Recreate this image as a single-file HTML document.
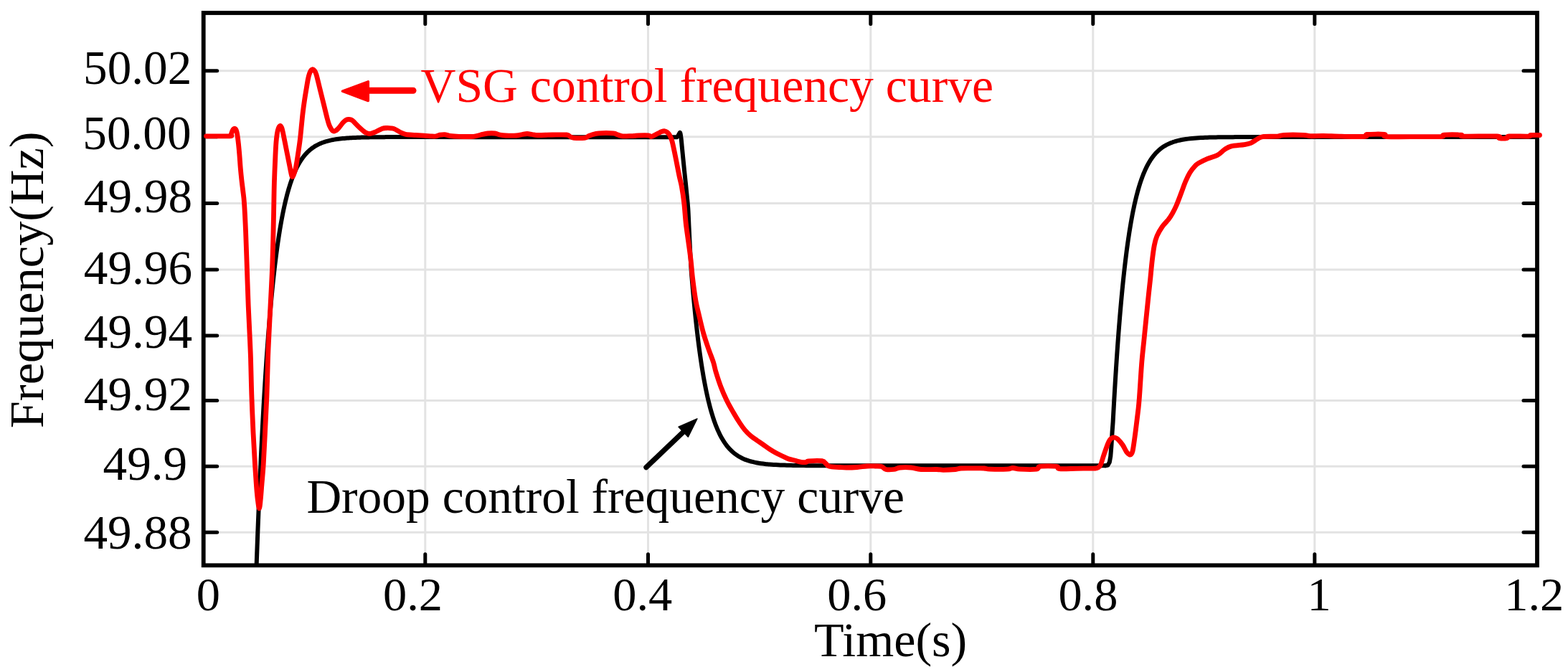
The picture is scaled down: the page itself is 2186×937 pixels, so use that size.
<!DOCTYPE html>
<html><head><meta charset="utf-8"><title>Frequency curves</title>
<style>html,body{margin:0;padding:0;background:#fff;overflow:hidden}svg{display:block}</style>
</head><body>
<svg width="2186" height="937" viewBox="0 0 2186 937">
<rect width="2186" height="937" fill="#fff"/>
<defs><clipPath id="pc"><rect x="283.7" y="18.0" width="1859.3" height="771.8"/></clipPath></defs>
<path d="M592.80,18.00V788.30 M903.50,18.00V788.30 M1213.80,18.00V788.30 M1523.80,18.00V788.30 M1832.80,18.00V788.30 M283.70,98.80H2143.00 M283.70,190.80H2143.00 M283.70,283.40H2143.00 M283.70,375.90H2143.00 M283.70,468.00H2143.00 M283.70,558.50H2143.00 M283.70,650.20H2143.00 M283.70,742.30H2143.00" stroke="#e3e3e3" stroke-width="3.00" fill="none"/>
<g clip-path="url(#pc)" fill="none" stroke="#000" stroke-width="6.00" stroke-linejoin="round" stroke-linecap="round">
<path d="M355.00,800.00 L355.50,800.00 L356.00,800.00 L356.50,800.00 L357.00,800.00 L357.50,791.62 L358.00,777.67 L358.50,764.04 L359.00,750.73 L359.50,737.73 L360.00,725.04 L360.50,712.63 L361.00,700.52 L361.50,688.68 L362.00,677.12 L362.50,665.83 L363.00,654.80 L363.50,644.03 L364.00,633.51 L364.50,623.23 L365.00,613.19 L365.50,603.39 L366.00,593.81 L366.50,584.45 L367.00,575.31 L367.50,566.39 L368.00,557.67 L368.50,549.15 L369.00,540.83 L369.50,532.71 L370.00,524.77 L370.50,517.02 L371.00,509.45 L371.50,502.05 L372.00,494.83 L372.50,487.77 L373.00,480.88 L373.50,474.15 L374.00,467.57 L374.50,461.15 L375.00,454.87 L375.50,448.74 L376.00,442.76 L376.50,436.91 L377.00,431.20 L377.50,425.62 L378.00,420.17 L378.50,414.85 L379.00,409.65 L379.50,404.57 L380.00,399.61 L380.50,394.76 L381.00,390.03 L381.50,385.41 L382.00,380.89 L382.50,376.48 L383.00,372.17 L383.50,367.97 L384.00,363.86 L384.50,359.84 L385.00,355.92 L385.50,352.09 L386.00,348.35 L386.50,344.69 L387.00,341.12 L387.50,337.64 L388.00,334.23 L388.50,330.90 L389.00,327.66 L389.50,324.48 L390.00,321.38 L390.50,318.35 L391.00,315.39 L391.50,312.51 L392.00,309.68 L392.50,306.93 L393.00,304.23 L393.50,301.60 L394.00,299.04 L394.50,296.53 L395.00,294.08 L395.50,291.68 L396.00,289.34 L396.50,287.06 L397.00,284.83 L397.50,282.65 L398.00,280.52 L398.50,278.44 L399.00,276.41 L399.50,274.43 L400.00,272.49 L400.50,270.60 L401.00,268.75 L401.50,266.94 L402.00,265.18 L402.50,263.45 L403.00,261.77 L403.50,260.13 L404.00,258.52 L404.50,256.95 L405.00,255.42 L405.50,253.93 L406.00,252.46 L406.50,251.04 L407.00,249.64 L407.50,248.28 L408.00,246.95 L408.50,245.65 L409.00,244.38 L409.50,243.14 L410.00,241.93 L410.50,240.75 L411.00,239.59 L411.50,238.46 L412.00,237.36 L412.50,236.28 L413.00,235.23 L413.50,234.21 L414.00,233.20 L414.50,232.22 L415.00,231.26 L415.50,230.33 L416.00,229.42 L416.50,228.52 L417.00,227.65 L417.50,226.80 L418.00,225.97 L418.50,225.16 L419.00,224.36 L419.50,223.59 L420.00,222.83 L422.00,219.98 L424.00,217.38 L426.00,215.01 L428.00,212.86 L430.00,210.89 L432.00,209.11 L434.00,207.49 L436.00,206.01 L438.00,204.66 L440.00,203.43 L442.00,202.32 L444.00,201.30 L446.00,200.38 L448.00,199.54 L450.00,198.77 L452.00,198.07 L454.00,197.44 L456.00,196.86 L458.00,196.34 L460.00,195.86 L462.00,195.42 L464.00,195.02 L466.00,194.66 L468.00,194.33 L470.00,194.04 L472.00,193.76 L474.00,193.52 L476.00,193.29 L478.00,193.08 L480.00,192.90 L482.00,192.73 L484.00,192.57 L486.00,192.43 L488.00,192.30 L490.00,192.19 L492.00,192.08 L494.00,191.98 L496.00,191.89 L498.00,191.81 L500.00,191.74 L502.00,191.67 L504.00,191.61 L506.00,191.56 L508.00,191.51 L510.00,191.46 L512.00,191.42 L514.00,191.38 L516.00,191.35 L518.00,191.32 L520.00,191.29 L522.00,191.26 L524.00,191.24 L526.00,191.22 L528.00,191.20 L530.00,191.18 L532.00,191.16 L534.00,191.15 L536.00,191.14 L538.00,191.12 L540.00,191.11 L542.00,191.10 L544.00,191.09 L546.00,191.09 L548.00,191.08 L550.00,191.07 L552.00,191.06 L554.00,191.06 L556.00,191.05 L558.00,191.05 L560.00,191.04 L562.00,191.04 L564.00,191.04 L566.00,191.03 L568.00,191.03 L570.00,191.03 L572.00,191.03 L574.00,191.02 L576.00,191.02 L578.00,191.02 L580.00,191.02 L582.00,191.02 L584.00,191.01 L586.00,191.01 L588.00,191.01 L590.00,191.01 L592.00,191.01 L594.00,191.01 L596.00,191.01 L598.00,191.01 L600.00,191.01"/>
<path d="M600.00,191.00 C616.67,191.03 666.67,191.17 700.00,191.20 C733.33,191.23 766.67,191.20 800.00,191.20 C833.33,191.20 877.00,191.20 900.00,191.20 C923.00,191.20 930.68,191.23 938.00,191.20 C945.32,191.17 942.52,191.62 943.90,191.00 C945.28,190.38 945.58,188.50 946.30,187.50 C947.02,186.50 947.65,184.08 948.20,185.00 C948.75,185.92 949.18,189.82 949.60,193.00 C950.02,196.18 950.23,199.40 950.70,204.10 C951.17,208.80 951.83,215.50 952.40,221.20 C952.97,226.90 953.52,232.60 954.10,238.30 C954.68,244.00 955.32,249.72 955.90,255.40 C956.48,261.08 957.03,266.47 957.60,272.40 C958.17,278.33 958.80,283.40 959.30,291.00 C959.80,298.60 960.13,308.33 960.60,318.00 C961.07,327.67 961.57,338.91 962.10,349.00 C962.63,359.09 963.35,371.58 963.80,378.53 C964.25,385.48 964.47,386.74 964.80,390.70 C965.13,394.67 965.47,398.54 965.80,402.33 C966.13,406.12 966.47,409.81 966.80,413.43 C967.13,417.05 967.47,420.58 967.80,424.04 C968.13,427.49 968.47,430.86 968.80,434.16 C969.13,437.46 969.47,440.68 969.80,443.84 C970.13,446.99 970.47,450.06 970.80,453.07 C971.13,456.08 971.47,459.02 971.80,461.89 C972.13,464.77 972.47,467.57 972.80,470.32 C973.13,473.07 973.47,475.74 973.80,478.37 C974.13,480.99 974.47,483.55 974.80,486.05 C975.13,488.56 975.47,491.00 975.80,493.39 C976.13,495.78 976.47,498.12 976.80,500.40 C977.13,502.68 977.47,504.91 977.80,507.09 C978.13,509.28 978.47,511.40 978.80,513.49 C979.13,515.57 979.47,517.60 979.80,519.59 C980.13,521.58 980.47,523.52 980.80,525.42 C981.13,527.32 981.47,529.18 981.80,530.99 C982.13,532.81 982.47,534.58 982.80,536.31 C983.13,538.05 983.47,539.74 983.80,541.39 C984.13,543.05 984.47,544.66 984.80,546.24 C985.13,547.82 985.47,549.37 985.80,550.88 C986.13,552.39 986.47,553.86 986.80,555.30 C987.13,556.74 987.47,558.15 987.80,559.53 C988.13,560.90 988.47,562.25 988.80,563.56 C989.13,564.88 989.47,566.16 989.80,567.42 C990.13,568.67 990.47,569.90 990.80,571.10 C991.13,572.30 991.47,573.47 991.80,574.62 C992.13,575.76 992.47,576.88 992.80,577.97 C993.13,579.07 993.47,580.13 993.80,581.18 C994.13,582.22 994.47,583.24 994.80,584.24 C995.13,585.24 995.47,586.21 995.80,587.17 C996.13,588.12 996.47,589.05 996.80,589.96 C997.13,590.87 997.47,591.76 997.80,592.63 C998.13,593.50 998.47,594.35 998.80,595.18 C999.13,596.01 999.47,596.82 999.80,597.61 C1000.13,598.40 1000.13,598.49 1000.80,599.93 C1001.47,601.38 1002.80,604.31 1003.80,606.30 C1004.80,608.28 1005.80,610.11 1006.80,611.84 C1007.80,613.57 1008.80,615.16 1009.80,616.67 C1010.80,618.17 1011.80,619.56 1012.80,620.87 C1013.80,622.19 1014.80,623.40 1015.80,624.54 C1016.80,625.68 1017.80,626.74 1018.80,627.73 C1019.80,628.73 1020.80,629.64 1021.80,630.51 C1022.80,631.38 1023.80,632.18 1024.80,632.93 C1025.80,633.69 1026.80,634.38 1027.80,635.04 C1028.80,635.70 1029.80,636.31 1030.80,636.88 C1031.80,637.45 1032.80,637.98 1033.80,638.48 C1034.80,638.98 1035.80,639.44 1036.80,639.88 C1037.80,640.31 1038.80,640.71 1039.80,641.09 C1040.80,641.47 1041.80,641.82 1042.80,642.15 C1043.80,642.48 1044.80,642.78 1045.80,643.07 C1046.80,643.36 1047.80,643.62 1048.80,643.87 C1049.80,644.12 1050.80,644.35 1051.80,644.57 C1052.80,644.79 1053.80,644.99 1054.80,645.18 C1055.80,645.37 1056.80,645.55 1057.80,645.71 C1058.80,645.88 1059.80,646.03 1060.80,646.18 C1061.80,646.32 1062.80,646.45 1063.80,646.58 C1064.80,646.70 1065.80,646.82 1066.80,646.93 C1067.80,647.04 1068.80,647.14 1069.80,647.23 C1070.80,647.33 1071.80,647.42 1072.80,647.50 C1073.80,647.58 1074.80,647.66 1075.80,647.73 C1076.80,647.81 1077.80,647.87 1078.80,647.93 C1079.80,648.00 1080.80,648.06 1081.80,648.11 C1082.80,648.17 1083.80,648.22 1084.80,648.26 C1085.80,648.31 1086.80,648.36 1087.80,648.40 C1088.80,648.44 1089.80,648.48 1090.80,648.51 C1091.80,648.55 1092.80,648.58 1093.80,648.62 C1094.80,648.65 1095.80,648.68 1096.80,648.70 C1097.80,648.73 1098.80,648.76 1099.80,648.78 C1100.80,648.80 1101.80,648.83 1102.80,648.85 C1103.80,648.87 1104.80,648.89 1105.80,648.91 C1106.80,648.92 1107.80,648.94 1108.80,648.96 C1109.80,648.97 1110.80,648.99 1111.80,649.00 C1112.80,649.01 1113.80,649.03 1114.80,649.04 C1115.80,649.05 1116.80,649.06 1117.80,649.07 C1118.80,649.08 1119.80,649.09 1120.80,649.10 C1121.80,649.11 1122.80,649.12 1123.80,649.13 C1124.80,649.14 1125.80,649.14 1126.80,649.15 C1127.80,649.16 1128.80,649.16 1129.80,649.17 C1130.80,649.18 1131.80,649.18 1132.80,649.19 C1133.80,649.19 1134.80,649.20 1135.80,649.20 C1136.80,649.21 1137.80,649.21 1138.80,649.21 C1139.80,649.22 1140.80,649.22 1141.80,649.22 C1142.80,649.23 1143.80,649.23 1144.80,649.23 C1145.80,649.24 1146.80,649.24 1147.80,649.24 C1148.80,649.25 1149.80,649.25 1150.80,649.25 C1151.80,649.25 1152.80,649.25 1153.80,649.26 C1154.80,649.26 1155.80,649.26 1156.80,649.26 C1157.80,649.26 1152.60,649.26 1159.80,649.27 C1167.00,649.27 1176.63,649.29 1200.00,649.30 C1223.37,649.31 1266.67,649.30 1300.00,649.30 C1333.33,649.30 1366.67,649.30 1400.00,649.30 C1433.33,649.30 1476.50,649.30 1500.00,649.30 C1523.50,649.30 1534.17,649.30 1541.00,649.30"/>
<path d="M1541.00,649.30 L1544.50,648.50 L1546.80,644.50 L1548.30,636.00 L1549.40,622.00 L1550.60,602.00 L1551.60,588.63 L1552.10,579.21 L1552.60,570.00 L1553.10,561.01 L1553.60,552.24 L1554.10,543.67 L1554.60,535.31 L1555.10,527.14 L1555.60,519.17 L1556.10,511.39 L1556.60,503.79 L1557.10,496.37 L1557.60,489.13 L1558.10,482.06 L1558.60,475.16 L1559.10,468.42 L1559.60,461.84 L1560.10,455.42 L1560.60,449.15 L1561.10,443.03 L1561.60,437.05 L1562.10,431.21 L1562.60,425.52 L1563.10,419.96 L1563.60,414.53 L1564.10,409.23 L1564.60,404.05 L1565.10,399.00 L1565.60,394.07 L1566.10,389.25 L1566.60,384.55 L1567.10,379.96 L1567.60,375.48 L1568.10,371.10 L1568.60,366.83 L1569.10,362.66 L1569.60,358.59 L1570.10,354.62 L1570.60,350.74 L1571.10,346.95 L1571.60,343.25 L1572.10,339.64 L1572.60,336.12 L1573.10,332.67 L1573.60,329.32 L1574.10,326.04 L1574.60,322.83 L1575.10,319.71 L1575.60,316.65 L1576.10,313.67 L1576.60,310.77 L1577.10,307.93 L1577.60,305.15 L1578.10,302.45 L1578.60,299.80 L1579.10,297.22 L1579.60,294.70 L1580.10,292.24 L1580.60,289.84 L1581.10,287.50 L1581.60,285.21 L1582.10,282.98 L1582.60,280.80 L1583.10,278.67 L1583.60,276.59 L1584.10,274.56 L1584.60,272.58 L1585.10,270.64 L1585.60,268.75 L1586.10,266.91 L1586.60,265.11 L1587.10,263.35 L1587.60,261.64 L1588.10,259.96 L1588.60,258.33 L1589.10,256.73 L1589.60,255.17 L1590.10,253.65 L1590.60,252.16 L1591.10,250.71 L1591.60,249.30 L1592.10,247.91 L1592.60,246.56 L1593.10,245.25 L1593.60,243.96 L1594.10,242.70 L1594.60,241.48 L1595.10,240.28 L1595.60,239.11 L1596.10,237.97 L1596.60,236.86 L1597.10,235.77 L1597.60,234.71 L1598.10,233.67 L1598.60,232.66 L1599.10,231.67 L1599.60,230.71 L1600.10,229.77 L1600.60,228.85 L1601.10,227.95 L1601.60,227.07 L1602.10,226.22 L1602.60,225.38 L1603.10,224.57 L1603.60,223.77 L1604.10,222.99 L1604.60,222.23 L1605.10,221.49 L1605.60,220.77 L1606.10,220.06 L1606.60,219.38 L1607.10,218.70 L1607.60,218.05 L1608.10,217.40 L1608.60,216.78 L1609.10,216.17 L1609.60,215.57 L1610.10,214.99 L1610.60,214.42 L1611.10,213.86 L1611.60,213.32 L1612.10,212.79 L1612.60,212.28 L1613.10,211.77 L1613.60,211.28 L1614.10,210.80 L1614.60,210.33 L1615.10,209.87 L1615.60,209.42 L1616.10,208.98 L1616.60,208.56 L1617.10,208.14 L1617.60,207.74 L1618.10,207.34 L1618.60,206.95 L1619.10,206.57 L1619.60,206.20 L1620.10,205.84 L1623.10,203.85 L1626.10,202.13 L1629.10,200.64 L1632.10,199.34 L1635.10,198.22 L1638.10,197.26 L1641.10,196.42 L1644.10,195.69 L1647.10,195.06 L1650.10,194.52 L1653.10,194.05 L1656.10,193.64 L1659.10,193.28 L1662.10,192.98 L1665.10,192.71 L1668.10,192.48 L1671.10,192.28 L1674.10,192.11 L1677.10,191.96 L1680.10,191.83 L1683.10,191.72 L1686.10,191.62 L1689.10,191.54 L1692.10,191.47 L1695.10,191.41 L1698.10,191.35 L1701.10,191.30 L1704.10,191.26 L1707.10,191.23 L1710.10,191.20 L1713.10,191.17 L1716.10,191.15 L1719.10,191.13 L1722.10,191.11 L1725.10,191.10 L1728.10,191.08 L1731.10,191.07 L1734.10,191.06 L1737.10,191.05 L1740.10,191.05 L1743.10,191.04 L1746.10,191.04 L1749.10,191.03 L1752.10,191.03 L1755.10,191.02 L1758.10,191.02 L1761.10,191.02 L1764.10,191.01 L1767.10,191.01 L1770.10,191.01 L1773.10,191.01 L1776.10,191.01 L1779.10,191.01 L1782.10,191.01 L1785.10,191.01 L1788.10,191.00 L1791.10,191.00 L1794.10,191.00 L1797.10,191.00 L1800.10,191.00 L1803.10,191.00 L1806.10,191.00 L1809.10,191.00 L1812.10,191.00 L1815.10,191.00 L1818.10,191.00 L1821.10,191.00 L1824.10,191.00 L1827.10,191.00 L1830.10,191.00 L1833.10,191.00 L1836.10,191.00 L1839.10,191.00 L1842.10,191.00 L1845.10,191.00 L1848.10,191.00 L1851.10,191.00 L1854.10,191.00 L1857.10,191.00 L1860.10,191.00 L1863.10,191.00 L1866.10,191.00 L1869.10,191.00 L1872.10,191.00 L1875.10,191.00 L1878.10,191.00 L1881.10,191.00 L1884.10,191.00 L1887.10,191.00 L1890.10,191.00 L1893.10,191.00 L1896.10,191.00 L1899.10,191.00 L1902.10,191.00 L1905.10,191.00 L1908.10,191.00 L1911.10,191.00 L1914.10,191.00 L1917.10,191.00 L1920.10,191.00 L1923.10,191.00 L1926.10,191.00 L1929.10,191.00 L1932.10,191.00 L1935.10,191.00 L1938.10,191.00 L1941.10,191.00 L1944.10,191.00 L1947.10,191.00 L1950.10,191.00 L1953.10,191.00 L1956.10,191.00 L1959.10,191.00 L1962.10,191.00 L1965.10,191.00 L1968.10,191.00 L1971.10,191.00 L1974.10,191.00 L1977.10,191.00 L1980.10,191.00 L1983.10,191.00 L1986.10,191.00 L1989.10,191.00 L1992.10,191.00 L1995.10,191.00 L1998.10,191.00 L2001.10,191.00 L2004.10,191.00 L2007.10,191.00 L2010.10,191.00 L2013.10,191.00 L2016.10,191.00 L2019.10,191.00 L2022.10,191.00 L2025.10,191.00 L2028.10,191.00 L2031.10,191.00 L2034.10,191.00 L2037.10,191.00 L2040.10,191.00 L2043.10,191.00 L2046.10,191.00 L2049.10,191.00 L2052.10,191.00 L2055.10,191.00 L2058.10,191.00 L2061.10,191.00 L2064.10,191.00 L2067.10,191.00 L2070.10,191.00 L2073.10,191.00 L2076.10,191.00 L2079.10,191.00 L2082.10,191.00 L2085.10,191.00 L2088.10,191.00 L2091.10,191.00 L2094.10,191.00 L2097.10,191.00 L2100.10,191.00 L2103.10,191.00 L2106.10,191.00 L2109.10,191.00 L2112.10,191.00 L2115.10,191.00 L2118.10,191.00 L2121.10,191.00 L2124.10,191.00 L2127.10,191.00 L2130.10,191.00 L2133.10,191.00 L2136.10,191.00 L2139.10,191.00 L2142.10,191.00"/>
</g>
<rect x="283.70" y="18.00" width="1859.30" height="770.30" fill="none" stroke="#000" stroke-width="5.80"/>
<path d="M592.80,788.30V772.80 M592.80,18.00V33.50 M903.50,788.30V772.80 M903.50,18.00V33.50 M1213.80,788.30V772.80 M1213.80,18.00V33.50 M1523.80,788.30V772.80 M1523.80,18.00V33.50 M1832.80,788.30V772.80 M1832.80,18.00V33.50 M283.70,98.80H302.70 M2143.00,98.80H2124.00 M283.70,190.80H302.70 M2143.00,190.80H2124.00 M283.70,283.40H302.70 M2143.00,283.40H2124.00 M283.70,375.90H302.70 M2143.00,375.90H2124.00 M283.70,468.00H302.70 M2143.00,468.00H2124.00 M283.70,558.50H302.70 M2143.00,558.50H2124.00 M283.70,650.20H302.70 M2143.00,650.20H2124.00 M283.70,742.30H302.70 M2143.00,742.30H2124.00" stroke="#000" stroke-width="5" fill="none" stroke-linecap="round"/>
<path d="M287.60,189.80 C293.00,189.80 314.27,190.13 320.00,189.80 C325.73,189.47 321.33,189.02 322.00,187.80 C322.67,186.58 323.37,183.83 324.00,182.50 C324.63,181.17 325.23,180.35 325.80,179.80 C326.37,179.25 326.88,179.08 327.40,179.20 C327.92,179.32 328.43,179.62 328.90,180.50 C329.37,181.38 329.80,182.75 330.20,184.50 C330.60,186.25 330.92,188.25 331.30,191.00 C331.68,193.75 332.08,197.00 332.50,201.00 C332.92,205.00 333.33,209.33 333.80,215.00 C334.27,220.67 334.77,228.83 335.30,235.00 C335.83,241.17 336.43,246.83 337.00,252.00 C337.57,257.17 338.12,260.83 338.70,266.00 C339.28,271.17 339.85,273.33 340.50,283.00 C341.15,292.67 341.95,308.60 342.60,324.00 C343.25,339.40 343.80,358.28 344.40,375.40 C345.00,392.52 345.60,411.77 346.20,426.70 C346.80,441.63 347.45,452.78 348.00,465.00 C348.55,477.22 349.03,485.83 349.50,500.00 C349.97,514.17 350.22,532.83 350.80,550.00 C351.38,567.17 352.22,586.67 353.00,603.00 C353.78,619.33 354.75,635.50 355.50,648.00 C356.25,660.50 356.87,669.83 357.50,678.00 C358.13,686.17 358.65,691.83 359.30,697.00 C359.95,702.17 360.75,709.00 361.40,709.00 C362.05,709.00 362.60,702.67 363.20,697.00 C363.80,691.33 364.33,683.17 365.00,675.00 C365.67,666.83 366.45,660.00 367.20,648.00 C367.95,636.00 368.72,618.83 369.50,603.00 C370.28,587.17 371.23,570.17 371.90,553.00 C372.57,535.83 372.93,515.50 373.50,500.00 C374.07,484.50 374.72,472.22 375.30,460.00 C375.88,447.78 376.30,440.80 377.00,426.70 C377.70,412.60 378.83,392.52 379.50,375.40 C380.17,358.28 380.63,338.23 381.00,324.00 C381.37,309.77 381.47,301.55 381.70,290.00 C381.93,278.45 382.03,266.82 382.40,254.70 C382.77,242.58 383.47,226.75 383.90,217.30 C384.33,207.85 384.58,203.22 385.00,198.00 C385.42,192.78 385.85,189.25 386.40,186.00 C386.95,182.75 387.58,180.28 388.30,178.50 C389.02,176.72 389.97,175.38 390.70,175.30 C391.43,175.22 392.08,176.48 392.70,178.00 C393.32,179.52 393.37,179.60 394.40,184.40 C395.43,189.20 397.40,199.32 398.90,206.80 C400.40,214.28 402.30,223.77 403.40,229.30 C404.50,234.83 404.85,237.13 405.50,240.00 C406.15,242.87 406.63,245.92 407.30,246.50 C407.97,247.08 408.67,245.58 409.50,243.50 C410.33,241.42 411.33,238.58 412.30,234.00 C413.27,229.42 414.30,222.52 415.30,216.00 C416.30,209.48 417.42,202.17 418.30,194.90 C419.18,187.63 419.95,178.72 420.60,172.40 C421.25,166.08 421.55,162.40 422.20,157.00 C422.85,151.60 423.65,145.72 424.50,140.00 C425.35,134.28 426.47,127.70 427.30,122.70 C428.13,117.70 428.78,113.42 429.50,110.00 C430.22,106.58 430.88,104.23 431.60,102.20 C432.32,100.17 433.08,98.73 433.80,97.80 C434.52,96.87 435.17,96.53 435.90,96.60 C436.63,96.67 437.35,96.98 438.20,98.20 C439.05,99.42 439.68,99.53 441.00,103.90 C442.32,108.27 444.40,117.57 446.10,124.40 C447.80,131.23 449.48,137.97 451.20,144.90 C452.92,151.83 455.10,161.07 456.40,166.00 C457.70,170.93 458.15,172.25 459.00,174.50 C459.85,176.75 460.72,178.20 461.50,179.50 C462.28,180.80 462.98,181.72 463.70,182.30 C464.42,182.88 465.00,183.05 465.80,183.00 C466.60,182.95 467.52,182.65 468.50,182.00 C469.48,181.35 470.02,181.02 471.70,179.10 C473.38,177.18 476.80,172.48 478.60,170.50 C480.40,168.52 481.22,167.90 482.50,167.20 C483.78,166.50 485.13,166.33 486.30,166.30 C487.47,166.27 488.52,166.58 489.50,167.00 C490.48,167.42 490.32,167.07 492.20,168.80 C494.08,170.53 497.95,174.77 500.80,177.40 C503.65,180.03 507.03,183.10 509.30,184.60 C511.57,186.10 512.87,186.20 514.40,186.40 C515.93,186.60 517.07,186.17 518.50,185.80 C519.93,185.43 520.55,185.28 523.00,184.20 C525.45,183.12 530.53,180.25 533.20,179.30 C535.87,178.35 537.00,178.58 539.00,178.50 C541.00,178.42 543.32,178.55 545.20,178.80 C547.08,179.05 548.03,179.00 550.30,180.00 C552.57,181.00 556.23,183.58 558.80,184.80 C561.37,186.02 562.28,186.72 565.70,187.30 C569.12,187.88 575.03,187.98 579.30,188.30 C583.57,188.62 587.85,188.95 591.30,189.20 C594.75,189.45 597.38,189.67 600.00,189.80 C602.62,189.93 604.83,190.27 607.00,190.00 C609.17,189.73 610.83,188.60 613.00,188.20 C615.17,187.80 617.67,187.42 620.00,187.60 C622.33,187.78 623.67,188.85 627.00,189.30 C630.33,189.75 634.50,190.13 640.00,190.30 C645.50,190.47 655.00,190.68 660.00,190.30 C665.00,189.92 666.67,188.72 670.00,188.00 C673.33,187.28 676.67,186.33 680.00,186.00 C683.33,185.67 687.17,185.67 690.00,186.00 C692.83,186.33 694.50,187.50 697.00,188.00 C699.50,188.50 701.17,188.83 705.00,189.00 C708.83,189.17 716.17,189.25 720.00,189.00 C723.83,188.75 725.50,187.92 728.00,187.50 C730.50,187.08 732.67,186.50 735.00,186.50 C737.33,186.50 739.50,187.17 742.00,187.50 C744.50,187.83 745.33,188.42 750.00,188.50 C754.67,188.58 763.33,188.08 770.00,188.00 C776.67,187.92 785.83,187.58 790.00,188.00 C794.17,188.42 793.33,189.78 795.00,190.50 C796.67,191.22 796.67,192.00 800.00,192.30 C803.33,192.60 811.67,192.68 815.00,192.30 C818.33,191.92 818.33,190.72 820.00,190.00 C821.67,189.28 822.50,188.70 825.00,188.00 C827.50,187.30 830.00,186.17 835.00,185.80 C840.00,185.43 850.67,185.47 855.00,185.80 C859.33,186.13 858.83,187.13 861.00,187.80 C863.17,188.47 864.83,189.50 868.00,189.80 C871.17,190.10 877.17,189.68 880.00,189.60 C882.83,189.52 883.33,189.43 885.00,189.30 C886.67,189.17 886.83,188.88 890.00,188.80 C893.17,188.72 901.03,188.52 904.00,188.80 C906.97,189.08 906.47,190.50 907.80,190.50 C909.13,190.50 910.23,189.65 912.00,188.80 C913.77,187.95 916.65,186.30 918.40,185.40 C920.15,184.50 921.10,183.83 922.50,183.40 C923.90,182.97 925.55,182.67 926.80,182.80 C928.05,182.93 929.00,183.48 930.00,184.20 C931.00,184.92 931.97,185.88 932.80,187.10 C933.63,188.32 934.28,189.80 935.00,191.50 C935.72,193.20 936.18,193.77 937.10,197.30 C938.02,200.83 939.37,207.28 940.50,212.70 C941.63,218.12 942.77,224.12 943.90,229.80 C945.03,235.48 946.23,241.77 947.30,246.80 C948.37,251.83 949.23,253.97 950.30,260.00 C951.37,266.03 952.72,274.50 953.70,283.00 C954.68,291.50 955.20,302.00 956.20,311.00 C957.20,320.00 958.55,328.40 959.70,337.00 C960.85,345.60 962.12,354.10 963.10,362.60 C964.08,371.10 964.47,378.60 965.60,388.00 C966.73,397.40 968.42,410.42 969.90,419.00 C971.38,427.58 972.73,432.00 974.50,439.50 C976.27,447.00 978.35,456.33 980.50,464.00 C982.65,471.67 985.07,478.67 987.40,485.50 C989.73,492.33 992.73,499.50 994.50,505.00 C996.27,510.50 996.25,512.75 998.00,518.50 C999.75,524.25 1002.50,532.92 1005.00,539.50 C1007.50,546.08 1010.17,552.17 1013.00,558.00 C1015.83,563.83 1018.92,569.17 1022.00,574.50 C1025.08,579.83 1028.75,585.82 1031.50,590.00 C1034.25,594.18 1035.90,596.57 1038.50,599.60 C1041.10,602.63 1044.25,605.77 1047.10,608.20 C1049.95,610.63 1052.75,612.22 1055.60,614.20 C1058.45,616.18 1061.35,618.12 1064.20,620.10 C1067.05,622.08 1069.87,624.25 1072.70,626.10 C1075.53,627.95 1078.35,629.63 1081.20,631.20 C1084.05,632.77 1086.95,634.12 1089.80,635.50 C1092.65,636.88 1095.93,638.58 1098.30,639.50 C1100.67,640.42 1102.22,640.53 1104.00,641.00 C1105.78,641.47 1106.83,641.75 1109.00,642.30 C1111.17,642.85 1114.50,643.97 1117.00,644.30 C1119.50,644.63 1122.25,644.55 1124.00,644.30 C1125.75,644.05 1123.83,643.07 1127.50,642.80 C1131.17,642.53 1142.00,642.08 1146.00,642.70 C1150.00,643.32 1149.83,645.23 1151.50,646.50 C1153.17,647.77 1152.92,649.47 1156.00,650.30 C1159.08,651.13 1166.00,651.22 1170.00,651.50 C1174.00,651.78 1175.83,652.00 1180.00,652.00 C1184.17,652.00 1190.17,651.83 1195.00,651.50 C1199.83,651.17 1204.83,650.25 1209.00,650.00 C1213.17,649.75 1216.67,649.92 1220.00,650.00 C1223.33,650.08 1226.50,649.75 1229.00,650.50 C1231.50,651.25 1232.17,653.83 1235.00,654.50 C1237.83,655.17 1242.67,654.92 1246.00,654.50 C1249.33,654.08 1251.00,652.42 1255.00,652.00 C1259.00,651.58 1265.17,651.58 1270.00,652.00 C1274.83,652.42 1278.00,654.08 1284.00,654.50 C1290.00,654.92 1300.83,654.37 1306.00,654.50 C1311.17,654.63 1310.67,655.30 1315.00,655.30 C1319.33,655.30 1327.83,654.88 1332.00,654.50 C1336.17,654.12 1335.33,653.27 1340.00,653.00 C1344.67,652.73 1354.67,652.90 1360.00,652.90 C1365.33,652.90 1368.67,652.78 1372.00,653.00 C1375.33,653.22 1374.67,654.00 1380.00,654.20 C1385.33,654.40 1398.67,654.48 1404.00,654.20 C1409.33,653.92 1409.00,652.50 1412.00,652.50 C1415.00,652.50 1416.50,653.92 1422.00,654.20 C1427.50,654.48 1440.33,654.85 1445.00,654.20 C1449.67,653.55 1445.38,650.95 1450.00,650.30 C1454.62,649.65 1468.20,649.75 1472.70,650.30 C1477.20,650.85 1472.45,653.10 1477.00,653.60 C1481.55,654.10 1493.85,653.38 1500.00,653.30 C1506.15,653.22 1509.40,653.15 1513.90,653.10 C1518.40,653.05 1524.07,653.27 1527.00,653.00 C1529.93,652.73 1530.22,652.42 1531.50,651.50 C1532.78,650.58 1533.47,650.35 1534.70,647.50 C1535.93,644.65 1537.28,639.13 1538.90,634.40 C1540.52,629.67 1542.97,622.67 1544.40,619.10 C1545.83,615.53 1546.35,614.50 1547.50,613.00 C1548.65,611.50 1550.13,610.55 1551.30,610.10 C1552.47,609.65 1553.33,609.95 1554.50,610.30 C1555.67,610.65 1556.52,610.50 1558.30,612.20 C1560.08,613.90 1563.12,617.45 1565.20,620.50 C1567.28,623.55 1569.18,628.25 1570.80,630.50 C1572.42,632.75 1573.83,633.55 1574.90,634.00 C1575.97,634.45 1576.50,634.07 1577.20,633.20 C1577.90,632.33 1578.47,631.50 1579.10,628.80 C1579.73,626.10 1580.30,621.80 1581.00,617.00 C1581.70,612.20 1582.57,605.67 1583.30,600.00 C1584.03,594.33 1584.75,588.33 1585.40,583.00 C1586.05,577.67 1586.73,572.33 1587.20,568.00 C1587.67,563.67 1587.87,561.17 1588.20,557.00 C1588.53,552.83 1588.60,551.67 1589.20,543.00 C1589.80,534.33 1590.88,516.17 1591.80,505.00 C1592.72,493.83 1593.73,485.63 1594.70,476.00 C1595.67,466.37 1596.48,458.20 1597.60,447.20 C1598.72,436.20 1600.40,419.53 1601.40,410.00 C1602.40,400.47 1602.78,397.83 1603.60,390.00 C1604.42,382.17 1605.35,371.00 1606.30,363.00 C1607.25,355.00 1608.18,347.67 1609.30,342.00 C1610.42,336.33 1611.15,333.33 1613.00,329.00 C1614.85,324.67 1617.73,319.83 1620.40,316.00 C1623.07,312.17 1626.63,309.12 1629.00,306.00 C1631.37,302.88 1632.77,300.55 1634.60,297.30 C1636.43,294.05 1637.97,291.22 1640.00,286.50 C1642.03,281.78 1644.67,274.58 1646.80,269.00 C1648.93,263.42 1650.77,257.75 1652.80,253.00 C1654.83,248.25 1656.80,244.08 1659.00,240.50 C1661.20,236.92 1663.98,233.68 1666.00,231.50 C1668.02,229.32 1668.22,229.10 1671.10,227.40 C1673.98,225.70 1678.92,223.17 1683.30,221.30 C1687.68,219.43 1693.38,218.35 1697.40,216.20 C1701.42,214.05 1704.20,210.45 1707.40,208.40 C1710.60,206.35 1712.02,205.03 1716.60,203.90 C1721.18,202.77 1730.33,202.37 1734.90,201.60 C1739.47,200.83 1740.95,200.60 1744.00,199.30 C1747.05,198.00 1750.45,195.25 1753.20,193.80 C1755.95,192.35 1755.93,191.22 1760.50,190.60 C1765.07,189.98 1775.72,190.48 1780.60,190.10 C1785.48,189.72 1783.70,188.60 1789.80,188.30 C1795.90,188.00 1811.10,188.07 1817.20,188.30 C1823.30,188.53 1821.82,189.52 1826.40,189.70 C1830.98,189.88 1837.43,189.32 1844.70,189.40 C1851.97,189.48 1860.28,190.05 1870.00,190.20 C1879.72,190.35 1897.00,190.75 1903.00,190.30 C1909.00,189.85 1901.50,188.00 1906.00,187.50 C1910.50,187.00 1925.50,186.80 1930.00,187.30 C1934.50,187.80 1924.67,189.95 1933.00,190.50 C1941.33,191.05 1967.17,190.60 1980.00,190.60 C1992.83,190.60 2004.50,190.90 2010.00,190.50 C2015.50,190.10 2008.50,188.58 2013.00,188.20 C2017.50,187.82 2032.50,187.90 2037.00,188.20 C2041.50,188.50 2031.67,189.70 2040.00,190.00 C2048.33,190.30 2078.67,189.57 2087.00,190.00 C2095.33,190.43 2087.67,192.17 2090.00,192.60 C2092.33,193.03 2098.67,193.03 2101.00,192.60 C2103.33,192.17 2099.00,190.43 2104.00,190.00 C2109.00,189.57 2126.00,190.25 2131.00,190.00 C2136.00,189.75 2131.42,188.75 2134.00,188.50 C2136.58,188.25 2144.42,188.50 2146.50,188.50" fill="none" stroke="#ff0000" stroke-width="6.80" stroke-linejoin="round" stroke-linecap="round"/>
<path d="M576,126.2H512" stroke="#ff0000" stroke-width="9" stroke-linecap="round" fill="none"/>
<path d="M477.5,127.2L513.3,113.8L513.3,140.5Z" fill="#ff0000" stroke="#ff0000" stroke-width="3.5" stroke-linejoin="round"/>
<path d="M900.90,651.70L954.89,600.12" stroke="#000" stroke-width="7.2" stroke-linecap="round" fill="none"/>
<path d="M971.88,583.89L959.35,609.14L946.08,595.26Z" fill="#000" stroke="#000" stroke-width="1.5" stroke-linejoin="round"/>
<g font-family="&apos;Liberation Serif&apos;, &apos;Times New Roman&apos;, serif">
<text x="116.10" y="117.35" font-size="67.20" fill="#000">50.02</text>
<text x="115.30" y="207.55" font-size="67.20" fill="#000">50.00</text>
<text x="116.80" y="295.85" font-size="67.20" fill="#000">49.98</text>
<text x="116.80" y="396.05" font-size="67.20" fill="#000">49.96</text>
<text x="116.80" y="485.05" font-size="67.20" fill="#000">49.94</text>
<text x="116.80" y="572.15" font-size="67.20" fill="#000">49.92</text>
<text x="143.60" y="669.35" font-size="67.20" fill="#000">49.9</text>
<text x="116.40" y="765.35" font-size="67.20" fill="#000">49.88</text>
<text x="273.80" y="851.10" font-size="66.40" fill="#000">0</text>
<text x="534.00" y="851.10" font-size="66.40" fill="#000">0.2</text>
<text x="854.30" y="851.10" font-size="66.40" fill="#000">0.4</text>
<text x="1153.20" y="851.00" font-size="66.40" fill="#000">0.6</text>
<text x="1475.40" y="851.10" font-size="66.40" fill="#000">0.8</text>
<text x="1822.60" y="851.25" font-size="66.40" fill="#000">1</text>
<text x="2097.20" y="851.10" font-size="66.40" fill="#000">1.2</text>
<text x="1135.04" y="914.89" font-size="68.14" fill="#000">Time(s)</text>
<text x="586.62" y="141.78" font-size="67.66" fill="#ff0000">VSG control frequency curve</text>
<text x="427.38" y="715.36" font-size="67.48" fill="#000">Droop control frequency curve</text>
<text transform="translate(59.85,597.15) rotate(-90)" font-size="68.38" fill="#000">Frequency(Hz)</text>
</g>
</svg>
</body></html>
